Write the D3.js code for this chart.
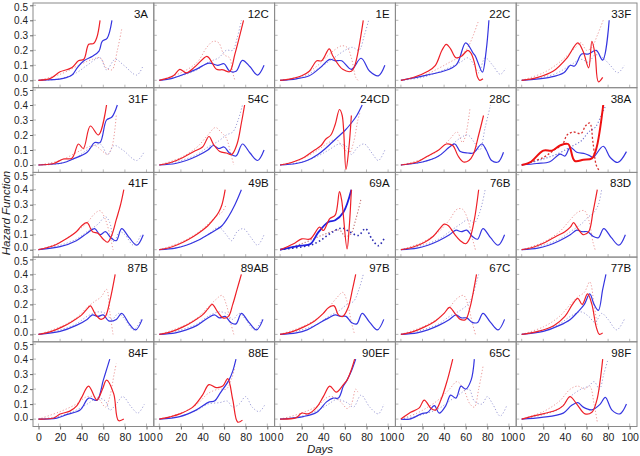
<!DOCTYPE html>
<html><head><meta charset="utf-8">
<script src="https://cdn.jsdelivr.net/npm/d3@7"></script>
<style>body{margin:0;background:#fff;} svg{display:block;font-family:Arial,"Liberation Sans",sans-serif;}</style>
</head><body><svg id="c" width="640" height="456"></svg>
<script>
const panelLabels = ["3A","12C","1E","22C","33F","31F","54C","24CD","28C","38A","41F","49B","69A","76B","83D","87B","89AB","97B","67C","77B","84F","88E","90EF","65C","98F"];
const xTicks = [0,20,40,60,80,100];
const yTicks = [0,0.1,0.2,0.3,0.4,0.5];

const redSolid = [
[[0,0],[11,.013],[20,.057],[26,.07],[31,.085],[37,.13],[42,.14],[46.5,.24],[51,.245],[54,.285],[57,.4]],
[[0,0],[13,.03],[19,.073],[25,.05],[33,.09],[44,.16],[47,.14],[53,.073],[59,.07],[65,.057],[70,.175],[78,.4]],
[[0,0],[10,.01],[20,.03],[27,.06],[34,.13],[38.5,.13],[45.5,.21],[49,.16],[58,.073],[66,.06],[69,.095],[77,.4]],
[[0,0],[12,.02],[25,.06],[32,.1],[38,.2],[42,.24],[46,.21],[51,.15],[56,.16],[62,.2],[65,.18],[68,.12],[71,.02],[73,0],[76,.01]],
[[0,0],[14,.018],[29,.06],[42,.15],[52,.25],[57,.19],[62,.083],[65,.26],[68,.17],[71,-.01],[75,.02]],
[[0,0],[14,.01],[23,.04],[31,.045],[37,.14],[41.5,.11],[48,.26],[55.5,.2],[63,.4]],
[[0,0],[12,.02],[22,.05],[32,.09],[40,.12],[46,.19],[50,.14],[56,.09],[62,.08],[67,.07],[72,.14],[76,.28],[79,.4]],
[[0,0],[12,.02],[22,.05],[32,.1],[38,.13],[42,.17],[47,.2],[51,.27],[55,.37],[57.5,.33],[61,-.03],[63.5,.1],[66,.33]],
[[0,0],[15,.02],[25,.06],[35,.1],[42,.14],[48,.13],[53,.06],[58,.02],[63,.03],[67,.07],[72,.2],[76.5,.33]],
[[0,0],[7.7,.017],[20,.096],[28,.096],[35.5,.13],[43,.14],[49,.028],[57,.035],[65,.044],[69,.107],[75.5,.4]],
[[0,0],[15,.03],[25,.07],[35,.12],[40,.16],[45,.18],[50,.12],[55,.11],[60,.07],[64,.05],[68,.1],[72,.2],[76,.3],[79,.4]],
[[0,0],[12,.02],[22,.05],[32,.09],[40,.13],[45,.16],[50,.2],[55,.25],[58,.3],[61,.4]],
[[0,0],[12,.038],[20,.072],[28,.072],[36.5,.15],[40,.128],[46,.207],[51,.23],[55,.387],[57,.33],[62,.005],[64,.15],[66,.4]],
[[0,0],[12,.02],[22,.05],[30,.09],[36,.14],[40,.17],[44,.16],[50,.1],[55,.06],[60,.04],[64,.08],[68,.2],[72,.4]],
[[0,0],[12,.02],[22,.05],[32,.09],[40,.12],[45,.15],[48,.18],[52,.14],[57,.1],[62,.12],[66,.25],[70,.4]],
[[0,0],[12,.02],[22,.05],[32,.09],[40,.13],[45,.17],[48,.19],[53,.13],[58,.1],[62,.12],[66,.22],[71,.4]],
[[0,0],[12,.02],[22,.05],[32,.09],[40,.13],[45,.17],[49,.2],[54,.15],[59,.11],[64,.12],[68,.2],[72,.3],[76,.4]],
[[0,0],[12,.02],[22,.05],[32,.09],[40,.14],[45,.18],[50,.19],[54,.13],[58,.12],[63,.18],[67,.3],[70,.4]],
[[0,0],[12,.02],[22,.05],[32,.09],[40,.14],[45,.18],[50,.14],[55,.1],[60,.1],[64,.18],[68,.32],[70,.4]],
[[0,0],[15,.02],[30,.06],[40,.12],[47,.2],[52,.24],[56,.2],[61,.27],[65,.2],[69,.05],[72,0],[75,.01]],
[[0,0],[14,.007],[20,.034],[29,.053],[35.6,.09],[40,.145],[46.4,.22],[54,.127],[59,.195],[63,.26],[69.6,.17],[74,-.01],[79,0]],
[[0,0],[10,.015],[19,.035],[31,.08],[40,.16],[46,.23],[52.6,.21],[58.8,.22],[63.4,.27],[68,.13],[72.6,-.02],[77,-.007]],
[[0,0],[15,.01],[20,.04],[26,.035],[34,.08],[40,.15],[46,.22],[52,.18],[58.6,.23],[62,.26],[66,.33],[69,.4]],
[[0,0],[9,.045],[17,.075],[21.6,.127],[28,.07],[32,.06],[37,.127],[43,.26],[48,.4]],
[[0,0],[12,.023],[31,.057],[38.5,.09],[44.7,.15],[51,.1],[58.6,.035],[65,.046],[69.6,.127],[72.7,.26],[75,.4]]
];

const blueSolid = [
[[0,0],[23,.013],[31,.035],[36,.085],[42,.13],[50,.16],[56,.195],[59,.26],[63.5,.28],[68,.4]],
[[0,0],[12,.013],[21,.035],[34,.073],[46,.115],[54,.1],[60,.11],[65,.062],[71,.06],[77,.133],[84,.09],[91,.035],[97,.1]],
[[0,0],[15,.01],[27,.03],[37,.083],[46,.14],[51,.13],[57,.13],[66,.073],[75,.147],[83,.06],[91,.03],[97,.1]],
[[0,0],[24,.035],[39,.06],[51.5,.105],[60,.25],[67,.18],[69,.16],[71.5,.116],[75.5,.054],[79,.2],[81.5,.4]],
[[0,0],[26,.02],[39,.05],[45,.1],[49,.095],[55.5,.175],[61.5,.175],[69,.2],[75,.135],[81,.4]],
[[0,0],[23,.015],[32,.04],[45,.085],[52,.15],[57,.15],[63,.3],[68,.32],[73,.4]],
[[0,0],[15,.01],[25,.03],[35,.06],[45,.1],[50,.13],[55,.11],[60,.12],[65,.08],[71,.06],[77,.14],[84,.08],[91,.03],[97,.1]],
[[0,0],[15,.01],[25,.03],[35,.07],[42,.11],[48,.15],[54,.19],[60,.23],[66,.28],[71,.33],[76,.4]],
[[0,0],[20,.02],[35,.06],[45,.12],[50,.14],[55,.09],[62,.08],[67,.08],[75,.14],[79,.1],[84,.03],[90,.02],[95,.085]],
[[0,0],[14,.01],[26,.022],[35.5,.073],[40,.06],[45,.118],[51,.085],[58.6,.075],[63,.062],[66,.05],[75.5,.125],[82,.05],[89,.017],[97,.089]],
[[0,0],[20,.02],[35,.06],[45,.11],[52,.14],[57,.1],[62,.12],[67,.08],[72,.06],[77,.14],[84,.08],[91,.03],[97,.1]],
[[0,0],[15,.01],[25,.03],[35,.06],[45,.1],[52,.13],[58,.16],[64,.22],[70,.3],[76,.4]],
[[0,0],[18.5,.027],[28,.038],[35.5,.117],[44.7,.185],[51,.196],[58.6,.25],[66,.4]],
[[0,0],[15,.01],[25,.03],[35,.06],[45,.1],[51,.13],[56,.12],[61,.13],[66,.09],[71,.07],[76,.14],[83,.08],[90,.03],[96,.1]],
[[0,0],[15,.01],[25,.03],[35,.06],[45,.1],[51,.13],[56,.12],[61,.12],[66,.09],[71,.08],[76,.14],[83,.08],[90,.03],[96,.1]],
[[0,0],[20,.02],[35,.06],[45,.1],[50,.13],[55,.12],[60,.13],[65,.09],[72,.1],[77,.14],[84,.07],[90,.03],[96,.1]],
[[0,0],[15,.01],[25,.03],[35,.06],[45,.11],[51,.13],[56,.11],[61,.12],[66,.08],[71,.07],[76,.14],[83,.08],[90,.03],[96,.1]],
[[0,0],[15,.01],[25,.03],[35,.07],[45,.11],[51,.13],[56,.12],[61,.12],[66,.08],[71,.07],[76,.14],[83,.08],[90,.03],[96,.1]],
[[0,0],[15,.01],[25,.03],[35,.06],[45,.1],[51,.13],[56,.11],[61,.11],[66,.08],[71,.08],[76,.14],[83,.08],[90,.03],[96,.1]],
[[0,0],[20,.02],[35,.06],[45,.1],[52,.15],[58,.2],[63,.27],[67,.2],[71,.16],[75,.3],[78,.4]],
[[0,0],[17,.007],[26,.03],[38.5,.06],[46.5,.14],[54,.125],[60,.26],[63,.33],[66,.4]],
[[0,0],[19,.017],[34,.06],[46.4,.115],[51,.12],[57,.18],[64.5,.26],[68,.32],[71,.4]],
[[0,0],[21.5,.017],[34,.046],[43,.115],[49,.14],[54,.14],[58.6,.22],[62,.26],[66,.32],[70,.4]],
[[0,0],[8,0],[19,.035],[25,.046],[31,.09],[35.5,.04],[41.6,.09],[46,.16],[51,.14],[55.6,.22],[60,.2],[65,.26],[68,.4]],
[[0,0],[18.5,.011],[38.5,.04],[46,.09],[52,.11],[57,.08],[65,.062],[72.7,.1],[77.4,.145],[83.6,.06],[91,.035],[97,.1]]
];

const redDotted = [
[[0,0],[20,.04],[40,.11],[50,.14],[57,.15],[63,.08],[68,.07],[73,.2],[77,.34]],
[[0,0],[20,.05],[35,.12],[44,.22],[50,.26],[55,.25],[60,.17],[65,.15],[68,.05],[70,0]],
[[0,0],[20,.03],[35,.1],[45,.17],[50,.2],[57,.23],[62,.22],[66,.15],[70,.02],[72,0]],
[[0,0],[20,.03],[35,.08],[45,.12],[55,.16],[62,.22],[67,.3],[72,.4]],
[[0,0],[20,.05],[35,.12],[50,.22],[55,.25],[60,.2],[65,.22],[70,.3],[76,.41]],
[[0,0],[20,.03],[40,.1],[52,.13],[58,.1],[64,.07],[68,.12],[72,.33]],
[[0,0],[20,.05],[35,.12],[45,.2],[52,.25],[57,.22],[62,.18],[66,.08],[69,0]],
[[0,0],[20,.04],[35,.1],[45,.15],[52,.17],[58,.12],[64,.08],[68,.15],[72,.3],[74,.35]],
[[0,0],[20,.04],[35,.1],[45,.17],[52,.22],[57,.15],[60,.2],[64,.38]],
[[0,0],[20,.05],[30,.1],[38,.14],[42,.2],[48,.22],[55,.21],[59,.26],[63,.28],[66,.15],[69,0],[72,-.04]],
[[0,0],[20,.05],[35,.12],[45,.18],[52,.24],[57,.26],[62,.2],[66,.1],[69,0]],
[[0,0],[20,.05],[35,.11],[45,.17],[52,.22],[58,.25],[62,.3]],
[[0,0],[20,.04],[40,.1],[55,.13],[60,.09],[65,.1],[70,.2],[75,.34]],
[[0,0],[20,.05],[35,.12],[45,.2],[52,.27],[57,.27],[62,.2],[66,.08],[69,0]],
[[0,0],[20,.05],[35,.12],[45,.2],[52,.25],[58,.26],[62,.2],[66,.05],[68,0]],
[[0,0],[20,.05],[35,.11],[45,.18],[52,.22],[58,.25],[63,.3],[66,.15],[69,0]],
[[0,0],[20,.05],[35,.11],[45,.18],[52,.23],[58,.26],[62,.2],[66,.08],[69,0]],
[[0,0],[20,.05],[35,.11],[45,.18],[52,.24],[58,.28],[62,.22],[66,.08],[69,0]],
[[0,0],[20,.05],[35,.11],[45,.18],[52,.24],[58,.26],[62,.2],[66,.08],[69,0]],
[[0,0],[20,.05],[35,.12],[45,.2],[52,.25],[58,.28],[63,.35],[67,.2],[70,.05]],
[[0,0],[20,.05],[35,.1],[45,.15],[55,.14],[62,.08],[66,.15],[70,.3],[72,.37]],
[[0,0],[20,.04],[35,.1],[45,.17],[55,.2],[62,.2],[67,.27],[70,.35]],
[[0,0],[20,.04],[35,.09],[45,.15],[52,.14],[58,.1],[62,.07],[66,.1],[70,.2],[72,.18]],
[[0,0],[15,.04],[25,.08],[35,.13],[45,.2],[52,.25],[58,.2],[64,.1],[68,.08],[72,.2],[76,.35]],
[[0,0],[20,.05],[35,.12],[45,.2],[52,.22],[58,.2],[63,.22],[67,.1],[70,-.02]]
];

const blueDotted = [
[[0,0],[20,.01],[35,.05],[45,.1],[57,.15],[63,.07],[71,.14],[79,.1],[91,.035],[97,.1]],
[[0,0],[20,.03],[35,.07],[45,.12],[55,.15],[62,.2],[68,.2],[72,.28],[76,.4]],
[[0,0],[20,.02],[40,.1],[50,.15],[60,.2],[67,.22],[73,.2],[78,.3],[82,.4]],
[[0,0],[20,.02],[40,.07],[55,.12],[62,.15],[68,.1],[72,.05],[78,.15],[85,.1],[92,.04],[97,.08]],
[[0,0],[30,.04],[45,.1],[55,.14],[62,.12],[68,.17],[75,.15],[82,.1],[89,.05],[95,.1]],
[[0,0],[20,.01],[35,.05],[45,.1],[57,.14],[64,.07],[70,.13],[78,.1],[91,.03],[98,.09]],
[[0,0],[20,.03],[35,.07],[45,.12],[55,.16],[62,.2],[68,.22],[73,.3],[77,.4]],
[[0,0],[20,.02],[35,.06],[45,.1],[55,.14],[62,.12],[66,.07],[72,.12],[78,.14],[85,.08],[91,.03],[97,.1]],
[[0,0],[20,.02],[35,.06],[45,.12],[55,.18],[62,.2],[68,.15],[73,.1],[78,.25],[83,.4]],
[[0,0],[20,.04],[35,.08],[45,.12],[55,.16],[62,.22],[68,.25],[73,.32],[78,.4]],
[[0,0],[20,.03],[35,.07],[45,.12],[55,.17],[62,.22],[66,.18],[70,.05],[75,.12],[80,.1],[88,.03],[95,.1]],
[[0,0],[20,.02],[35,.06],[45,.1],[55,.15],[62,.1],[67,.06],[72,.12],[78,.14],[85,.08],[91,.03],[97,.1]],
[[0,0],[28,.03],[37,.06],[46,.106],[57,.144],[65,.117],[72.5,.095],[79,.14],[85,.072],[91,.027],[97,.083]],
[[0,0],[20,.03],[35,.07],[45,.12],[55,.17],[62,.2],[68,.18],[73,.25],[78,.4]],
[[0,0],[20,.03],[35,.07],[45,.12],[55,.17],[62,.22],[67,.25],[71,.3],[74,.4]],
[[0,0],[20,.03],[35,.07],[45,.12],[55,.15],[62,.14],[68,.1],[74,.14],[80,.1],[88,.03],[95,.1]],
[[0,0],[20,.03],[35,.07],[45,.12],[55,.15],[62,.14],[68,.1],[74,.14],[80,.1],[88,.03],[95,.1]],
[[0,0],[20,.03],[35,.07],[45,.12],[55,.16],[62,.2],[68,.22],[73,.3],[77,.4]],
[[0,0],[20,.03],[35,.07],[45,.12],[55,.16],[62,.2],[66,.25],[70,.35],[72,.4]],
[[0,0],[20,.03],[35,.07],[45,.12],[55,.15],[62,.12],[68,.08],[74,.14],[80,.1],[88,.03],[95,.1]],
[[0,0],[20,.02],[35,.06],[45,.1],[55,.14],[62,.12],[66,.06],[72,.1],[78,.15],[86,.08],[92,.04],[98,.1]],
[[0,0],[20,.02],[35,.06],[45,.1],[56,.11],[63,.12],[68,.08],[74,.1],[80,.15],[86,.08],[92.6,.05],[98,.1]],
[[0,0],[20,.02],[35,.06],[45,.1],[52,.13],[62,.11],[68,.08],[75,.16],[83,.08],[91,.035],[96,.1]],
[[0,0],[20,.03],[35,.07],[45,.12],[55,.17],[63,.2],[68,.12],[75,.1],[80,.15],[85,.1],[92,.02],[98,.09]],
[[0,0],[20,.03],[35,.07],[45,.15],[55,.2],[62,.22],[67,.25],[72,.2],[76,.3],[80,.4]]
];

// ---------- drawing ----------
const svg = d3.select("#c");
const left0 = 33, colW = 120.8, top0 = 3, rowH = 84.7, ncol = 5, nrow = 5;
const textCol = "#222";
const frameCol = "#8a8a8a";

const baseStyle = {
  rd: {stroke:"#ec9a9a", width:1, dash:"1.2,2"},
  bd: {stroke:"#a0a0d8", width:1, dash:"1.2,2"},
  bs: {stroke:"#3535e0", width:1.2, dash:null},
  rs: {stroke:"#ee2028", width:1.2, dash:null}
};
const overrides = {
  9:  {rd:{stroke:"#d83030", width:1.3, dash:"2,2"}, bd:{stroke:"#7070d0", width:1.1, dash:"1.2,2"}, rs:{stroke:"#ee1010", width:2, dash:null}},
  12: {rd:{stroke:"#c07070", width:1.1, dash:"1.2,2"}, bd:{stroke:"#2828b0", width:1.6, dash:"1.5,2.5"}, bs:{stroke:"#2020e0", width:1.8, dash:null}}
};

const defs = svg.append("defs");

panelLabels.forEach((lab, i) => {
  const r = Math.floor(i / ncol), c = i % ncol;
  const L = left0 + c * colW, T = top0 + r * rowH;
  const x = d3.scaleLinear().domain([0, 100]).range([L + 5.5, L + 113.5]);
  const y = d3.scaleLinear().domain([0, 0.5]).range([T + 77.3, T + 2.3]);

  defs.append("clipPath").attr("id", "cp" + i)
    .append("rect").attr("x", L + 0.5).attr("y", T + 0.5).attr("width", colW - 1).attr("height", rowH - 1);

  const g = svg.append("g");
  g.selectAll(".ty").data(yTicks).enter().append("line")
    .attr("x1", L).attr("x2", L + 3).attr("y1", d => y(d)).attr("y2", d => y(d))
    .attr("stroke", "#aaa").attr("stroke-width", 0.8);
  g.selectAll(".tx").data(xTicks).enter().append("line")
    .attr("x1", d => x(d)).attr("x2", d => x(d)).attr("y1", T + rowH).attr("y2", T + rowH - 3)
    .attr("stroke", "#aaa").attr("stroke-width", 0.8);

  const line = d3.line().x(d => x(d[0])).y(d => y(d[1])).curve(d3.curveCatmullRom.alpha(0.5));
  const lg = g.append("g").attr("clip-path", `url(#cp${i})`);
  const st = Object.assign({}, baseStyle, overrides[i] || {});
  const series = [["rd", redDotted[i]], ["bd", blueDotted[i]], ["bs", blueSolid[i]], ["rs", redSolid[i]]];
  series.forEach(([k, data]) => {
    const s = st[k];
    lg.append("path").attr("d", line(data)).attr("fill", "none")
      .attr("stroke", s.stroke).attr("stroke-width", s.width)
      .attr("stroke-dasharray", s.dash).attr("stroke-linejoin", "round");
  });

  g.append("rect").attr("x", L).attr("y", T).attr("width", colW).attr("height", rowH)
    .attr("fill", "none").attr("stroke", frameCol).attr("stroke-width", 1);

  g.append("text").attr("x", L + 115).attr("y", T + 15).attr("text-anchor", "end")
    .attr("font-size", 11.5).attr("fill", "#111").text(lab);

  if (c === 0) {
    const ax = d3.axisLeft(y).tickValues(yTicks).tickFormat(d3.format(".1f")).tickSize(3).tickPadding(2);
    const ag = svg.append("g").attr("transform", `translate(${L},0)`).call(ax);
    ag.select(".domain").remove();
    ag.selectAll("line").attr("stroke", "#666");
    ag.selectAll("text").attr("font-size", 10).attr("fill", textCol)
      .attr("font-family", "Arial, 'Liberation Sans', sans-serif")
      .attr("dy", d => d === 0 ? "0.12em" : (d === 0.5 ? "0.5em" : "0.32em"));
  }
  if (r === nrow - 1) {
    const ax = d3.axisBottom(x).tickValues(xTicks).tickSize(3).tickPadding(4);
    const ag = svg.append("g").attr("transform", `translate(0,${T + rowH})`).call(ax);
    ag.select(".domain").remove();
    ag.selectAll("line").attr("stroke", "#666");
    ag.selectAll("text").attr("font-size", 10.5).attr("fill", textCol).attr("font-family", "Arial, 'Liberation Sans', sans-serif");
  }
});

svg.append("text").attr("x", 320).attr("y", 453).attr("text-anchor", "middle")
  .attr("font-size", 11.5).attr("font-style", "italic").attr("fill", textCol).text("Days");
svg.append("text").attr("transform", "translate(10,213) rotate(-90)").attr("text-anchor", "middle")
  .attr("font-size", 11.5).attr("font-style", "italic").attr("fill", textCol).text("Hazard Function");
</script>
</body></html>
